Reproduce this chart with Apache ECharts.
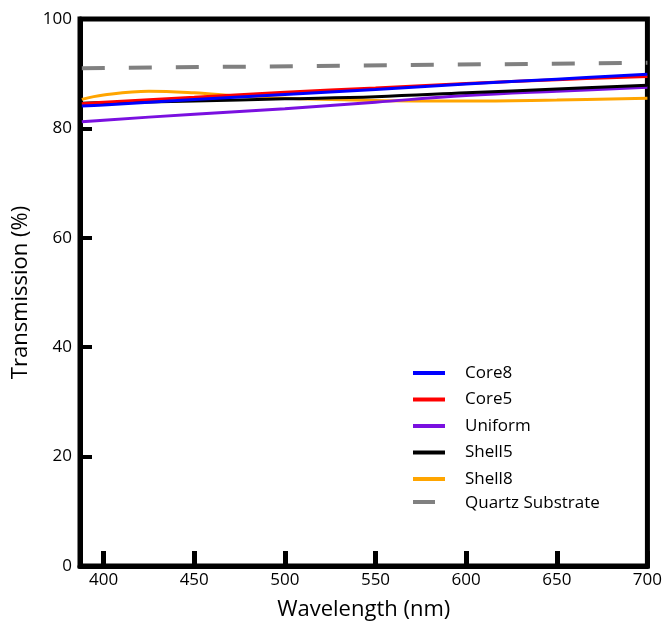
<!DOCTYPE html>
<html><head><meta charset="utf-8">
<script src="https://cdn.jsdelivr.net/npm/echarts@6/dist/echarts.min.js"></script>
<style>html,body{margin:0;padding:0;background:#fff}#c{width:665px;height:629px}</style>
</head><body><div id="c"></div>
<script>
const wavelengths = [388, 400, 450, 500, 550, 600, 650, 700];
const core8 = [84.1, 84.3, 85.3, 86.2, 87.1, 88.1, 89.0, 89.9];
const core5 = [84.5, 84.8, 85.7, 86.6, 87.4, 88.2, 88.9, 89.5];
const uniform = [81.2, 81.5, 82.6, 83.6, 84.8, 86.0, 86.8, 87.5];
const shell5 = [84.6, 84.7, 85.0, 85.4, 85.8, 86.5, 87.2, 87.9];
const shell8Wl = [388, 400, 425, 450, 475, 500, 550, 600, 650, 700];
const shell8 = [85.3, 86.1, 86.8, 86.5, 85.9, 85.5, 85.1, 85.0, 85.2, 85.5];
const quartzWl = [388, 700];
const quartz = [91.0, 92.0];
const xTicks = [400, 450, 500, 550, 600, 650, 700];
const yTicks = [0, 20, 40, 60, 80, 100];

const pair = (xs, ys) => xs.map((x, i) => [x, ys[i]]);
const FONT = '"Open Sans", sans-serif';

const chart = echarts.init(document.getElementById('c'));
function line(name, color, xs, ys, extra) {
  return Object.assign({
    name, type: 'line', data: pair(xs, ys), showSymbol: false, symbol: 'none',
    smooth: 0.4, lineStyle: { color, width: 3 }, itemStyle: { color }, z: 3
  }, extra || {});
}
chart.setOption({
  animation: false,
  grid: { left: 80, right: 17, top: 19, bottom: 63, show: true, borderColor: '#000', borderWidth: 5 },
  xAxis: {
    type: 'value', min: 387, max: 700,
    name: 'Wavelength (nm)', nameLocation: 'middle', nameGap: 33,
    nameTextStyle: { fontFamily: FONT, fontSize: 22, color: '#000' },
    axisLine: { show: true, lineStyle: { color: '#000', width: 5 } },
    axisTick: { show: true, inside: true, length: 15, lineStyle: { color: '#000', width: 5 }, customValues: xTicks },
    axisLabel: { fontFamily: FONT, fontSize: 17, color: '#000', margin: 6, customValues: xTicks },
    splitLine: { show: false }
  },
  yAxis: {
    type: 'value', min: 0, max: 100, interval: 20,
    name: 'Transmission (%)', nameLocation: 'middle', nameGap: 45,
    nameTextStyle: { fontFamily: FONT, fontSize: 22, color: '#000' },
    axisLine: { show: true, lineStyle: { color: '#000', width: 5 } },
    axisTick: { show: true, inside: true, length: 12, lineStyle: { color: '#000', width: 4 } },
    axisLabel: { fontFamily: FONT, fontSize: 17, color: '#000', margin: 8, customValues: yTicks },
    splitLine: { show: false }
  },
  legend: {
    data: ['Core8', 'Core5', 'Uniform', 'Shell5', 'Shell8'],
    orient: 'vertical', left: 413, top: 364, padding: 0, itemWidth: 32, itemHeight: 4, itemGap: 8.5,
    icon: 'rect', itemStyle: { borderWidth: 0 },
    textStyle: { fontFamily: FONT, fontSize: 17, color: '#000', padding: [0, 0, 0, 15], lineHeight: 18 }
  },
  graphic: [
    { type: 'rect', left: 413, top: 500, shape: { width: 22, height: 4 }, style: { fill: '#808080' } },
    { type: 'text', left: 465, top: 495, style: { text: 'Quartz Substrate', fontFamily: FONT, fontSize: 17, fill: '#000' } }
  ],
  series: [
    line('Quartz Substrate', '#808080', quartzWl, quartz, { smooth: false, lineStyle: { color: '#808080', width: 4, type: [23, 24] }, z: 2 }),
    line('Shell8', '#ffa500', shell8Wl, shell8),
    line('Uniform', '#7a10e0', wavelengths, uniform),
    line('Shell5', '#000000', wavelengths, shell5),
    line('Core5', '#ff0000', wavelengths, core5),
    line('Core8', '#0000ff', wavelengths, core8)
  ]
});
</script></body></html>
